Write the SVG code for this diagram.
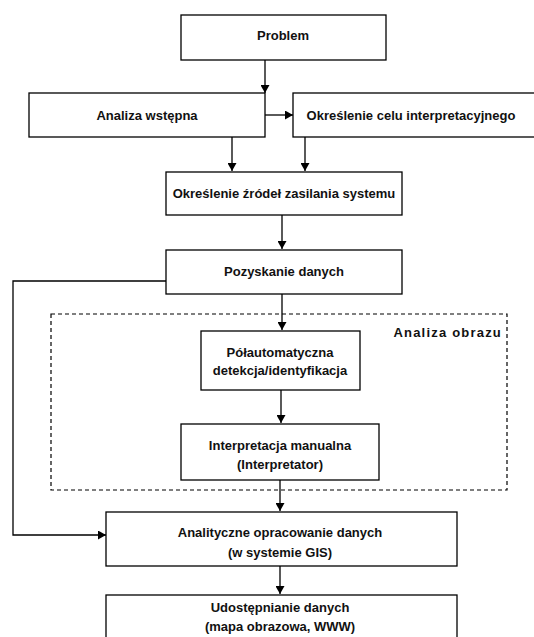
<svg xmlns="http://www.w3.org/2000/svg" width="534" height="637" viewBox="0 0 534 637">
<defs>
<marker id="ah" markerWidth="8" markerHeight="9" refX="8" refY="4.5" orient="auto" markerUnits="userSpaceOnUse">
<path d="M0,0 L8,4.5 L0,9 Z" fill="#000"/>
</marker>
</defs>
<style>
.box{fill:#fff;stroke:#000;stroke-width:1.3}
.t{font-family:"Liberation Sans",Arial,sans-serif;font-weight:bold;font-size:13px;fill:#111;text-anchor:middle}
.c{fill:none;stroke:#000;stroke-width:1.3}
.dash{fill:none;stroke:#000;stroke-width:1.2;stroke-dasharray:4,3}
</style>
<rect width="534" height="637" fill="#fff"/>
<g id="analiza-obrazu">
<rect class="dash" x="51" y="314" width="456" height="176"/>
<text x="502" y="337" style="font-family:'Liberation Sans',Arial,sans-serif;font-weight:bold;font-size:13px;fill:#111;letter-spacing:1.2px" text-anchor="end">Analiza obrazu</text>
</g>
<g id="connectors">
<line class="c" x1="265" y1="60" x2="265" y2="93" marker-end="url(#ah)"/>
<line class="c" x1="265" y1="115" x2="293" y2="115" marker-end="url(#ah)"/>
<line class="c" x1="232" y1="137" x2="232" y2="171" marker-end="url(#ah)"/>
<line class="c" x1="305" y1="137" x2="305" y2="171" marker-end="url(#ah)"/>
<line class="c" x1="282" y1="215" x2="282" y2="249" marker-end="url(#ah)"/>
<line class="c" x1="282" y1="294" x2="282" y2="330" marker-end="url(#ah)"/>
<line class="c" x1="281" y1="390" x2="281" y2="423" marker-end="url(#ah)"/>
<line class="c" x1="280" y1="480" x2="280" y2="511" marker-end="url(#ah)"/>
<polyline class="c" points="166,281 13,281 13,535 106,535" marker-end="url(#ah)"/>
<line class="c" x1="280" y1="566" x2="280" y2="594" marker-end="url(#ah)"/>
</g>
<g id="problem">
<rect class="box" x="181" y="15" width="205" height="45"/>
<text class="t" x="283" y="40">Problem</text>
</g>
<g id="analiza-wstepna">
<rect class="box" x="29" y="93" width="236" height="44"/>
<text class="t" x="147" y="120">Analiza wstępna</text>
</g>
<g id="okreslenie-celu">
<rect class="box" x="293" y="93" width="250" height="44"/>
<text class="t" x="411" y="120">Określenie celu interpretacyjnego</text>
</g>
<g id="okreslenie-zrodel">
<rect class="box" x="166" y="172" width="236" height="43"/>
<text class="t" x="284" y="198">Określenie źródeł zasilania systemu</text>
</g>
<g id="pozyskanie">
<rect class="box" x="166" y="250" width="236" height="44"/>
<text class="t" x="284" y="276">Pozyskanie danych</text>
</g>
<g id="polautomatyczna">
<rect class="box" x="201" y="331" width="159" height="59"/>
<text class="t" x="280" y="357">Półautomatyczna</text>
<text class="t" x="280" y="375">detekcja/identyfikacja</text>
</g>
<g id="interpretacja">
<rect class="box" x="181" y="424" width="198" height="56"/>
<text class="t" x="280" y="450">Interpretacja manualna</text>
<text class="t" x="280" y="469">(Interpretator)</text>
</g>
<g id="analityczne">
<rect class="box" x="106" y="512" width="351" height="54"/>
<text class="t" x="280" y="537">Analityczne opracowanie danych</text>
<text class="t" x="280" y="557">(w systemie GIS)</text>
</g>
<g id="udostepnianie">
<rect class="box" x="106" y="595" width="351" height="60"/>
<text class="t" x="280" y="612">Udostępnianie danych</text>
<text class="t" x="280" y="631">(mapa obrazowa, WWW)</text>
</g>
</svg>
